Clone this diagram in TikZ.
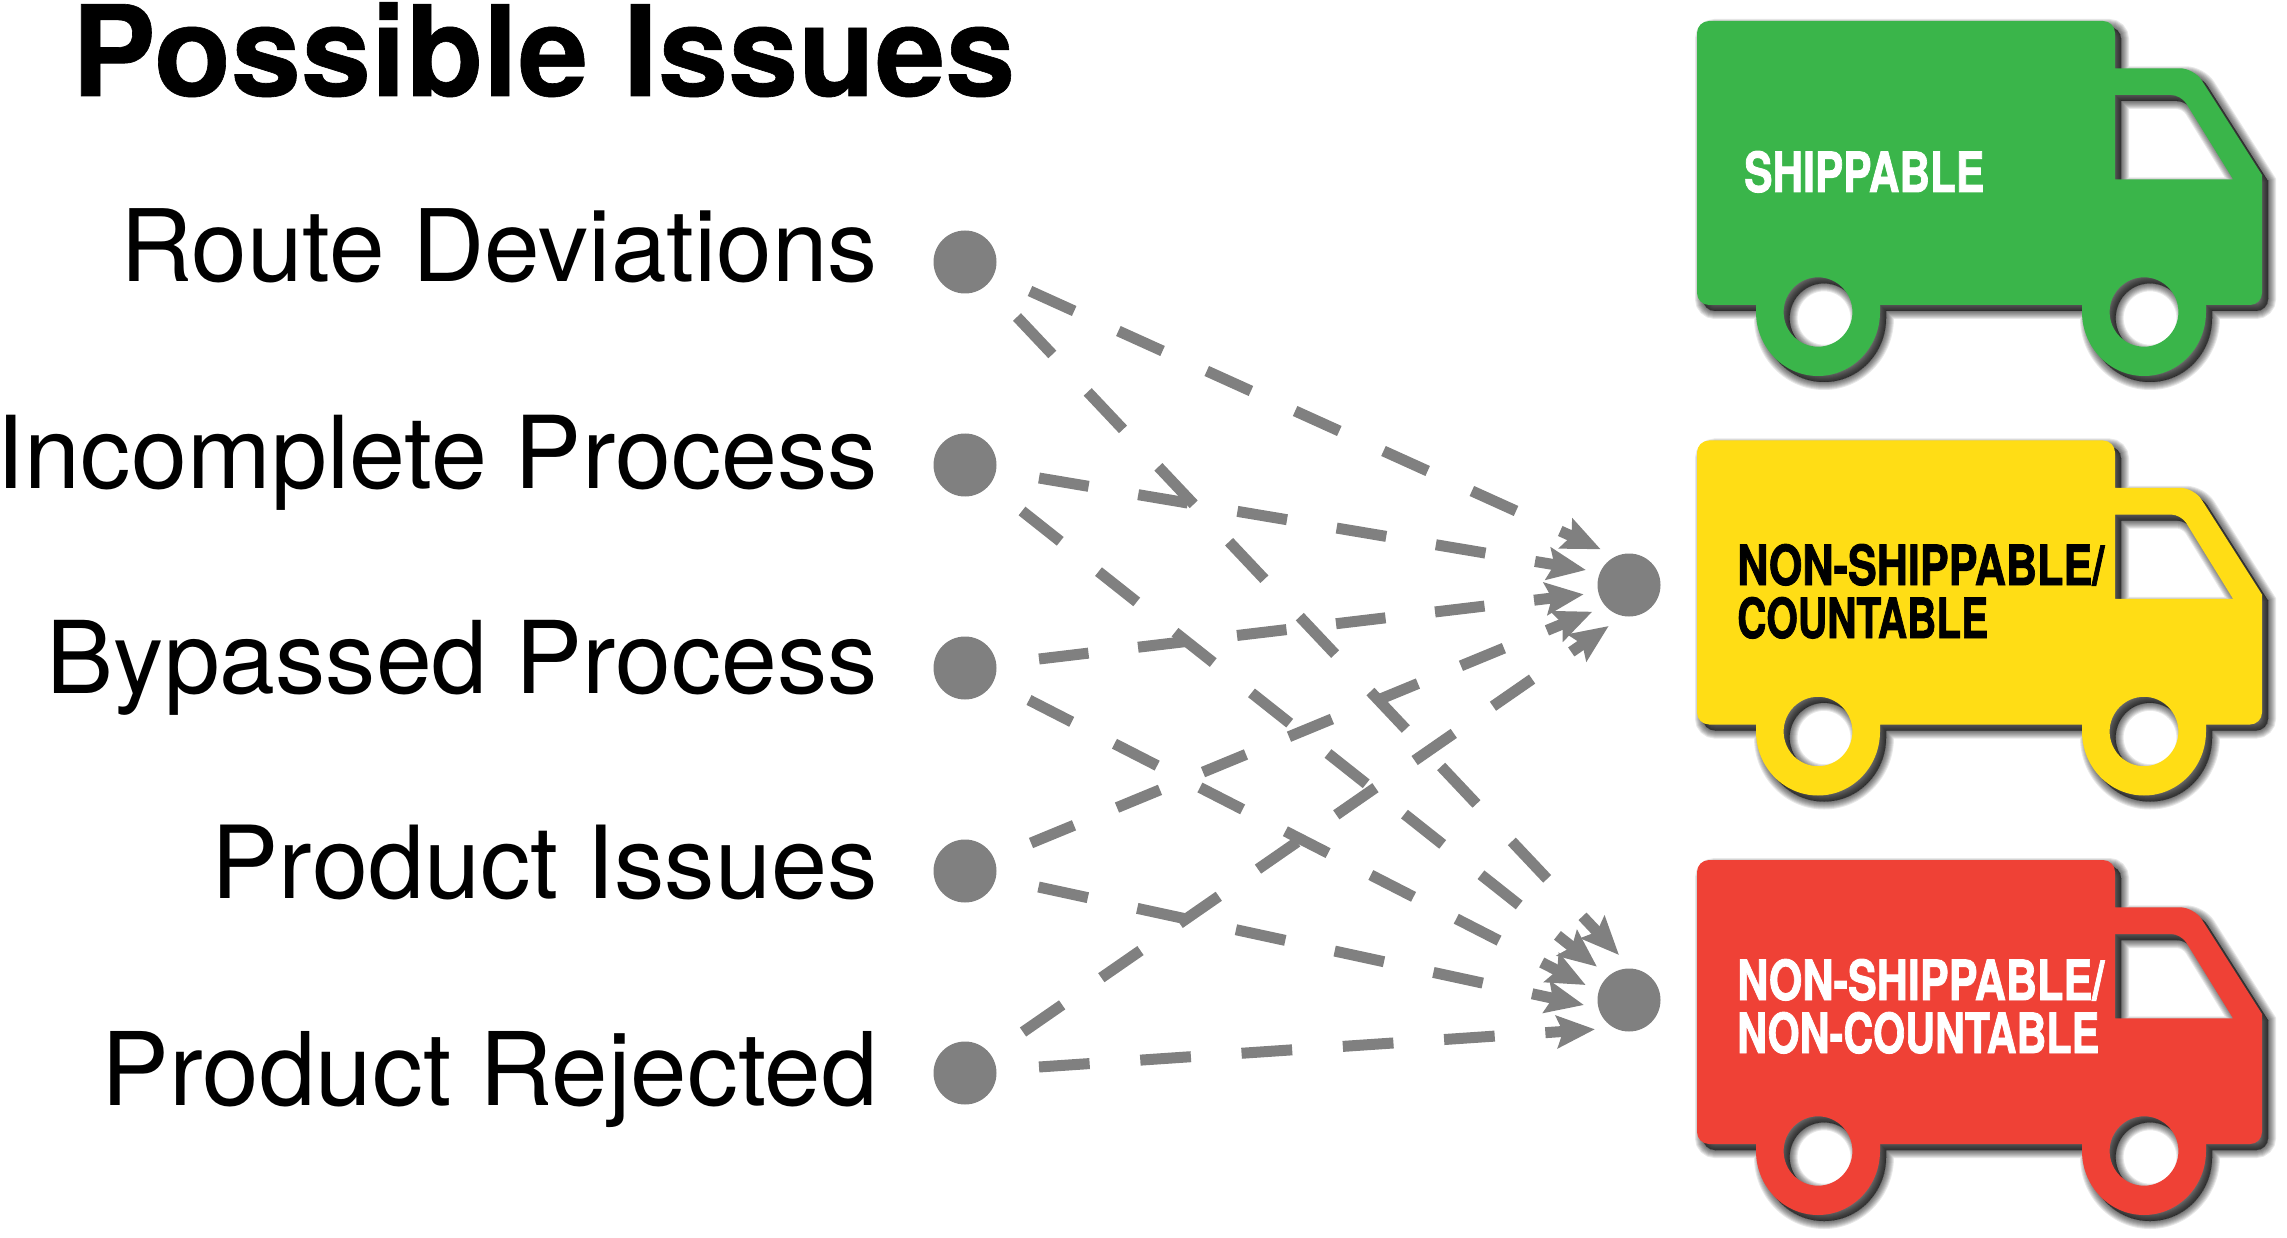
\documentclass[tikz,border=0pt]{standalone}
\usepackage{fontspec}
\usepackage{graphicx}
\usetikzlibrary{arrows.meta}
\setmainfont{TeX Gyre Heros}
\newfontfamily\truckfont[BoldFeatures={FakeBold=1.6}]{TeX Gyre Heros}
\newfontfamily\titlefont[BoldFeatures={FakeBold=0.5}]{TeX Gyre Heros}
\definecolor{dotgray}{HTML}{808080}
\definecolor{tgreen}{HTML}{3AB54A}
\definecolor{tyellow}{HTML}{FFDD15}
\definecolor{tred}{HTML}{EF4136}
\tikzset{
  dot/.style={circle,fill=dotgray,inner sep=0pt,minimum size=63pt},
  issue/.style={anchor=base east,inner sep=0pt,font=\fontsize{#1}{101}\selectfont},
  titletext/.style={anchor=base west,inner sep=0pt,font=\titlefont\bfseries\fontsize{126}{126}\selectfont},
  trucktext/.style={anchor=base west,inner sep=0pt,font=\truckfont\bfseries\fontsize{55}{55}\selectfont},
  conn/.style={draw=dotgray,line width=11pt,dash pattern=on #1pt off #1pt,
    -{Stealth[length=38pt,width=32pt,inset=6pt]}}
}
\def\truckpath{(1756,312) -- (1756,305) [rounded corners=12pt] -- (1697,305) -- (1697,21) -- (2115,21) [sharp corners] -- (2115,68.3) [rounded corners=14pt] -- (2194,68.3) [sharp corners] -- (2262,175) [rounded corners=12pt] -- (2262,305) [sharp corners] -- (2206,305) -- (2206,312) arc[start angle=0,end angle=180,x radius=62,y radius=64] -- (2082,305) -- (1880,305) -- (1880,312) arc[start angle=0,end angle=180,x radius=62,y radius=64] -- cycle
(2115,95) [rounded corners=10pt] -- (2181,95) [sharp corners] -- (2233,179.3) -- (2115,179.3) -- cycle
(1818,312) ellipse[x radius=34.4,y radius=34.7]
(2144,312) ellipse[x radius=34.4,y radius=34.7]}
\newcommand\truckshape[2]{%
  \begin{scope}[shift={(0,#1)}]
    \begin{scope}[shift={(6,6)}]
      \foreach \w in {16,14,12,10,8,6,4,2,0}{
        \fill[black,even odd rule,draw=black,line width=\w pt,opacity=.09] \truckpath;
      }
    \end{scope}
    \fill[#2,even odd rule] \truckpath;
  \end{scope}}
\begin{document}
\begin{tikzpicture}[x=1pt,y=-1pt]
\useasboundingbox (0,0) rectangle (2287,1238);
% title
\node[titletext] (title) at (71.5,96) {Possible Issues};
% issue labels
\node[issue=100] (t1) at (878,282) {Route Deviations};
\node[issue=100.6] (t2) at (878,488) {Incomplete Process};
\node[issue=100.4] (t3) at (878,693) {Bypassed Process};
\node[issue=100.8] (t4) at (878,898) {Product Issues};
\node[issue=101.6] (t5) at (878,1105) {Product Rejected};
% dots
\node[dot] (l1) at (965,262) {};
\node[dot] (l2) at (965,465) {};
\node[dot] (l3) at (965,668) {};
\node[dot] (l4) at (965,871) {};
\node[dot] (l5) at (965,1073) {};
\node[dot] (r1) at (1629,585) {};
\node[dot] (r2) at (1629,1000) {};
% connector ends
\coordinate (s1a) at (1030,291);   \coordinate (e1a) at (1600.7,549.3);
\coordinate (s2a) at (1039,478);   \coordinate (e2a) at (1586,570);
\coordinate (s3a) at (1039,659);   \coordinate (e3a) at (1583.7,594.3);
\coordinate (s4a) at (1031,843);   \coordinate (e4a) at (1592.3,611.7);
\coordinate (s5a) at (1023,1032);  \coordinate (e5a) at (1608.7,626);
\coordinate (s1b) at (1017,317);   \coordinate (e1b) at (1619,955);
\coordinate (s2b) at (1022,511);   \coordinate (e2b) at (1597,966.7);
\coordinate (s3b) at (1029,700);   \coordinate (e3b) at (1585.7,985);
\coordinate (s4b) at (1038.5,887); \coordinate (e4b) at (1584,1005);
\coordinate (s5b) at (1039,1067);  \coordinate (e5b) at (1595,1029.3);
% connectors
\draw[conn=48.5] (s1a) -- (e1a);
\draw[conn=50.3] (s2a) -- (e2a);
\draw[conn=49.85] (s3a) -- (e3a);
\draw[conn=46.5] (s4a) -- (e4a);
\draw[conn=47.65] (s5a) -- (e5a);
\draw[conn=51.5] (s1b) -- (e1b);
\draw[conn=48.8] (s2b) -- (e2b);
\draw[conn=48] (s3b) -- (e3b);
\draw[conn=50.5] (s4b) -- (e4b);
\draw[conn=50.75] (s5b) -- (e5b);
% trucks
\truckshape{0}{tgreen}
\truckshape{419.5}{tyellow}
\truckshape{839}{tred}
\node[trucktext,text=white] (a1) at (1744,192) {\resizebox{240pt}{41pt}{SHIPPABLE}};
\node[trucktext,text=black] (b1) at (1737,585) {\resizebox{367pt}{41pt}{NON-SHIPPABLE/}};
\node[trucktext,text=black] (b2) at (1737,638) {\resizebox{251pt}{41pt}{COUNTABLE}};
\node[trucktext,text=white] (c1) at (1737,1000) {\resizebox{367pt}{41pt}{NON-SHIPPABLE/}};
\node[trucktext,text=white] (c2) at (1737,1053) {\resizebox{362pt}{41pt}{NON-COUNTABLE}};
\end{tikzpicture}
\end{document}
